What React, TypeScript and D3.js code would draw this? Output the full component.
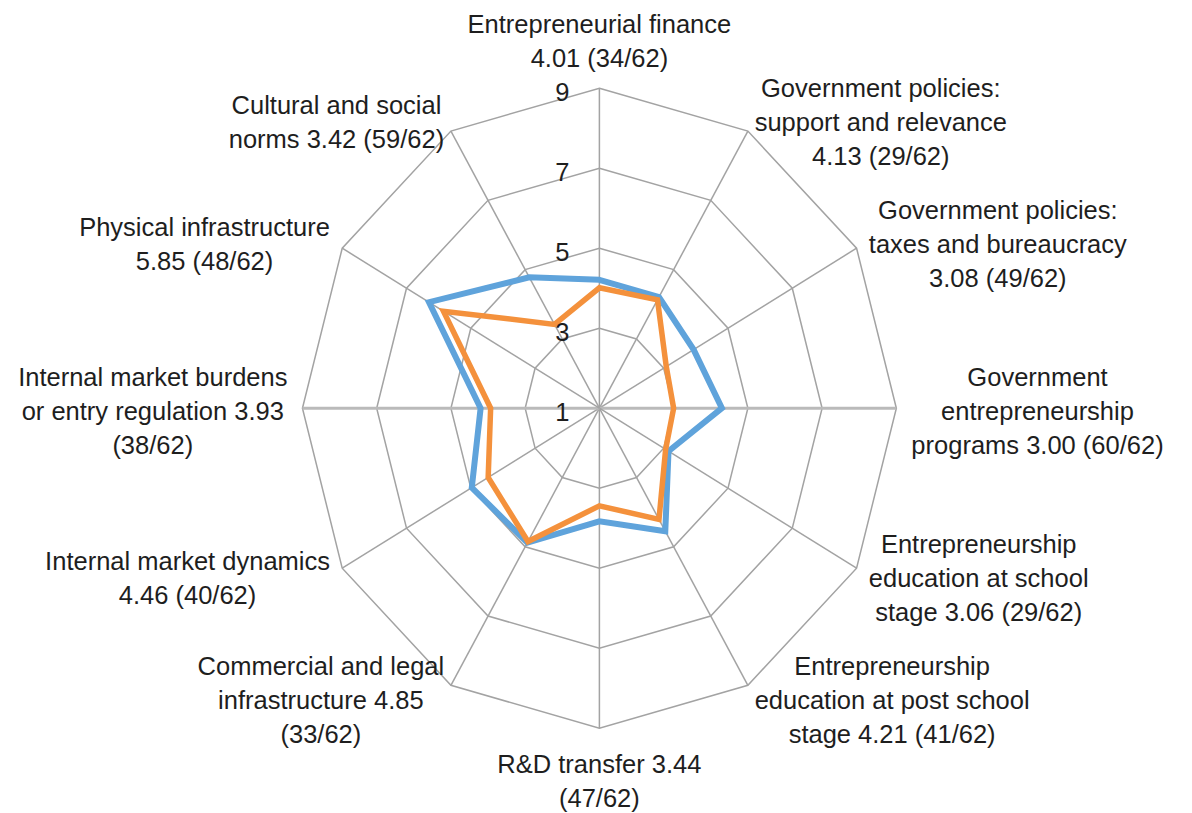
import React, { useEffect, useRef } from "react";
import * as d3 from "d3";

// ---- Data ----
const categories = [
  "Entrepreneurial finance",
  "Government policies: support and relevance",
  "Government policies: taxes and bureaucracy",
  "Government entrepreneurship programs",
  "Entrepreneurship education at school stage",
  "Entrepreneurship education at post school stage",
  "R&D transfer",
  "Commercial and legal infrastructure",
  "Internal market dynamics",
  "Internal market burdens or entry regulation",
  "Physical infrastructure",
  "Cultural and social norms",
];
const countryScores = [4.01, 4.13, 3.08, 3.0, 3.06, 4.21, 3.44, 4.85, 4.46, 3.93, 5.85, 3.42];
const countryRanks = [34, 29, 49, 60, 29, 41, 47, 33, 40, 38, 48, 59];
const benchmarkScores = [4.21, 4.21, 3.93, 4.3, 3.15, 4.55, 3.83, 4.88, 4.97, 4.2, 6.3, 4.78];
const totalEconomies = 62;
const tickValues = [1, 3, 5, 7, 9];
const ringValues = [3, 5, 7, 9];
const labelLines = [
  ["Entrepreneurial finance", "4.01 (34/62)"],
  ["Government policies:", "support and relevance", "4.13 (29/62)"],
  ["Government policies:", "taxes and bureaucracy", "3.08 (49/62)"],
  ["Government", "entrepreneurship", "programs 3.00 (60/62)"],
  ["Entrepreneurship", "education at school", "stage 3.06 (29/62)"],
  ["Entrepreneurship", "education at post school", "stage 4.21 (41/62)"],
  ["R&D transfer 3.44", "(47/62)"],
  ["Commercial and legal", "infrastructure 4.85", "(33/62)"],
  ["Internal market dynamics", "4.46 (40/62)"],
  ["Internal market burdens", "or entry regulation 3.93", "(38/62)"],
  ["Physical infrastructure", "5.85 (48/62)"],
  ["Cultural and social", "norms 3.42 (59/62)"],
];

const W = 1192;
const H = 813;
const CX = 599.4;
const CY = 408.2;
const R = 320;
const SX = 0.928;
const FONT = "'Liberation Sans', Arial, sans-serif";
const FS = 25.5;
const LH = 34;
const TEXT = "#1e1e1e";

export default function App() {
  const ref = useRef<SVGSVGElement | null>(null);

  useEffect(() => {
    const svg = d3.select(ref.current);
    svg.selectAll("*").remove();

    const n = categories.length;
    const r = d3.scaleLinear().domain([1, 9]).range([0, R]);
    const ang = d3.scaleLinear().domain([0, n]).range([0, 2 * Math.PI]);
    const pt = (v: number, i: number): [number, number] => {
      const a = ang(i);
      return [CX + SX * r(v) * Math.sin(a), CY - r(v) * Math.cos(a)];
    };
    const closed = d3.line().curve(d3.curveLinearClosed);

    const grid = svg.append("g");
    ringValues.forEach((rv) => {
      grid
        .append("path")
        .attr("d", closed(d3.range(n).map((i) => pt(rv, i))))
        .attr("fill", "none")
        .attr("stroke", "#a3a3a3")
        .attr("stroke-width", 1.5);
    });
    d3.range(n).forEach((i) => {
      const [x1, y1] = pt(1, i);
      const [x2, y2] = pt(9, i);
      const horiz = i === 3 || i === 9;
      grid
        .append("line")
        .attr("x1", x1)
        .attr("y1", y1)
        .attr("x2", x2)
        .attr("y2", y2)
        .attr("stroke", horiz ? "#bababa" : "#a3a3a3")
        .attr("stroke-width", horiz ? 3 : 1.5);
    });

    const series = [
      { values: benchmarkScores, color: "#5fa3db", width: 6 },
      { values: countryScores, color: "#f4913c", width: 5.5 },
    ];
    series.forEach((s) => {
      svg
        .append("path")
        .attr("d", closed(s.values.map((v, i) => pt(v, i))))
        .attr("fill", "none")
        .attr("stroke", s.color)
        .attr("stroke-width", s.width)
        .attr("stroke-linejoin", "miter");
    });

    tickValues.forEach((t) => {
      svg
        .append("text")
        .attr("x", CX - 30)
        .attr("y", pt(t, 0)[1] + 13)
        .attr("text-anchor", "end")
        .attr("font-family", FONT)
        .attr("font-size", FS)
        .attr("fill", TEXT)
        .text(String(t));
    });

    labelLines.forEach((lines, i) => {
      const a = ang(i);
      const [vx, vy] = pt(9, i);
      const g = svg.append("g");
      const texts = lines.map((ln) =>
        g
          .append("text")
          .attr("text-anchor", "middle")
          .attr("font-family", FONT)
          .attr("font-size", FS)
          .attr("fill", TEXT)
          .text(ln)
      );
      const maxW = d3.max(texts, (t) => (t.node() as SVGTextElement).getComputedTextLength()) || 0;
      const s = Math.sin(a);
      const c = Math.cos(a);
      let x = vx;
      let firstBase = 0;
      const m = lines.length;
      if (Math.abs(s) < 1e-6 && c > 0) {
        firstBase = vy - 21 - (m - 1) * LH;
      } else if (Math.abs(s) < 1e-6 && c < 0) {
        firstBase = vy + 45;
      } else {
        const gap = 4 + 11 * s * s;
        x = s > 0 ? vx + gap + maxW / 2 : vx - gap - maxW / 2;
        const centerY = vy + 3 - 14 * c;
        firstBase = centerY - ((m - 1) * LH) / 2 + 9;
      }
      texts.forEach((t, k) => t.attr("x", x).attr("y", firstBase + k * LH));
    });
  }, []);

  return (
    <svg
      ref={ref}
      width={W}
      height={H}
      style={{ position: "absolute", left: 0, top: 0, background: "#fff" }}
    />
  );
}
